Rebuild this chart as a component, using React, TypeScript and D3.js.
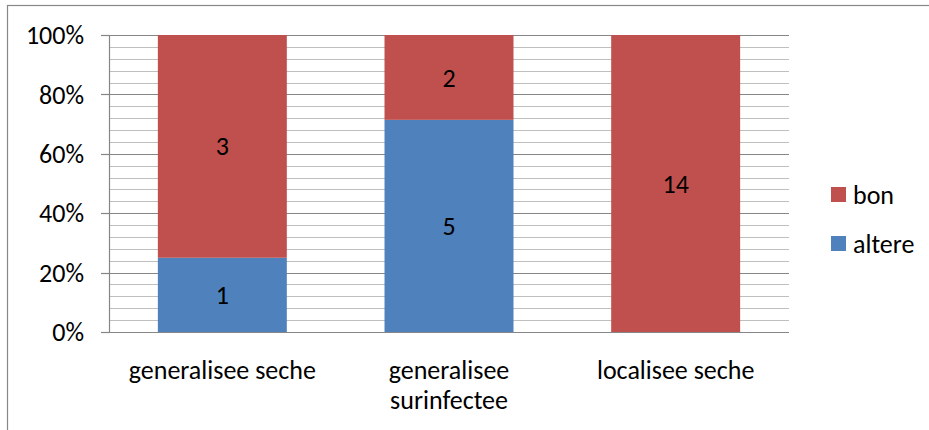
import React from "react";
import * as d3 from "d3";

const categories: string[][] = [["generalisee seche"], ["generalisee", "surinfectee"], ["localisee seche"]];
const altere: number[] = [1, 5, 0];
const bon: number[] = [3, 2, 14];
const yTicks: number[] = [0, 0.2, 0.4, 0.6, 0.8, 1];
const seriesNames = ["bon", "altere"];
const colors: Record<string, string> = { bon: "#C0504D", altere: "#4F81BD" };

const W = 929, H = 430;
const FONT = "Carlito, Calibri, Lato, sans-serif";
const FS = 26;

export default function App() {
  const x = d3.scaleBand<number>().domain([0, 1, 2]).range([109, 789]).paddingInner(0.431).paddingOuter(0.2155);
  const y = d3.scaleLinear().domain([0, 1]).range([332, 35]);
  const minor = d3.range(0, 1.0001, 0.04);
  const rows = categories.map((c, i) => {
    const total = altere[i] + bon[i];
    return { i, a: altere[i], b: bon[i], pa: altere[i] / total, pb: bon[i] / total };
  });
  return (
    <svg width={W} height={H} style={{ position: "absolute", left: 0, top: 0, background: "#fff" }}>
      <rect x={7.5} y={5.5} width={930} height={440} fill="#fff" stroke="#878787" strokeWidth={1.2} />
      {minor.map((v, k) => {
        const isMajor = Math.abs(v * 5 - Math.round(v * 5)) < 1e-6;
        return (
          <line key={k} x1={109} x2={789} y1={Math.round(y(v)) + 0.5} y2={Math.round(y(v)) + 0.5}
            stroke={isMajor ? "#868686" : "#BFBFBF"} strokeWidth={isMajor ? 1.2 : 1.1} />
        );
      })}
      <line x1={109.5} x2={109.5} y1={35} y2={332.5} stroke="#868686" strokeWidth={1.2} />
      {yTicks.map((t) => (
        <g key={t}>
          <line x1={101} x2={109} y1={Math.round(y(t)) + 0.5} y2={Math.round(y(t)) + 0.5} stroke="#868686" strokeWidth={1.2} />
          <text x={84} y={y(t)} dy="0.35em" textAnchor="end" fontFamily={FONT} fontSize={FS} fill="#000">
            {d3.format(".0%")(t)}
          </text>
        </g>
      ))}
      {rows.map((r) => (
        <g key={r.i}>
          {r.a > 0 && (
            <rect x={x(r.i)} y={y(r.pa)} width={x.bandwidth()} height={y(0) - y(r.pa)} fill={colors.altere} />
          )}
          {r.b > 0 && (
            <rect x={x(r.i)} y={y(1)} width={x.bandwidth()} height={y(r.pa) - y(1)} fill={colors.bon} />
          )}
          {r.a > 0 && (
            <text x={(x(r.i) as number) + x.bandwidth() / 2} y={y(r.pa / 2)} dy="0.35em" textAnchor="middle" fontFamily={FONT} fontSize={FS}>
              {r.a}
            </text>
          )}
          {r.b > 0 && (
            <text x={(x(r.i) as number) + x.bandwidth() / 2} y={y(r.pa + r.pb / 2)} dy="0.35em" textAnchor="middle" fontFamily={FONT} fontSize={FS}>
              {r.b}
            </text>
          )}
          {categories[r.i].map((line, li) => (
            <text key={li} x={(x(r.i) as number) + x.bandwidth() / 2} y={370 + li * 30} dy="0.35em" textAnchor="middle" fontFamily={FONT} fontSize={FS}>
              {line}
            </text>
          ))}
        </g>
      ))}
      {seriesNames.map((s, k) => (
        <g key={s}>
          <rect x={831} y={187 + k * 49} width={15} height={15} fill={colors[s]} />
          <text x={853} y={194.5 + k * 49} dy="0.35em" fontFamily={FONT} fontSize={FS}>
            {s}
          </text>
        </g>
      ))}
    </svg>
  );
}
